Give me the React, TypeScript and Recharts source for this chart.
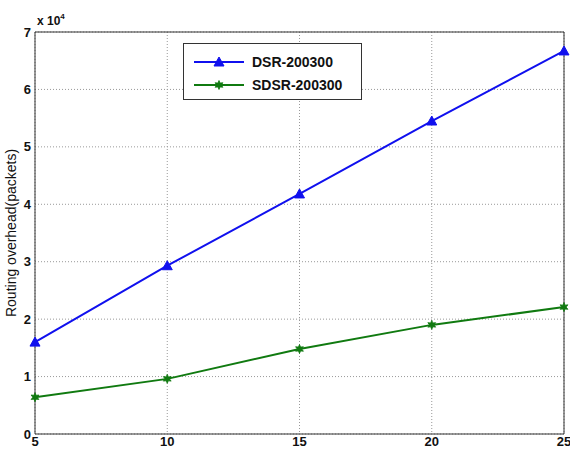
import React from 'react';
import { LineChart, Line, XAxis, YAxis, CartesianGrid, Customized, ReferenceLine } from 'recharts';

const nodes = [5, 10, 15, 20, 25];
const dsr = [16000, 29300, 41800, 54500, 66700];
const sdsr = [6400, 9600, 14800, 19000, 22100];
const yTicks = [0, 10000, 20000, 30000, 40000, 50000, 60000, 70000];

const data = nodes.map((n, i) => ({ n, dsr: dsr[i], sdsr: sdsr[i] }));

const BLUE = '#1010ee';
const GREEN = '#107a10';
const FONT = 'Liberation Sans, Arial, sans-serif';

const Tri = (props: any) => {
  const { cx, cy } = props;
  if (cx == null || cy == null) return null;
  const s = 5;
  return <polygon points={`${cx},${cy - s} ${cx - s},${cy + s * 0.8} ${cx + s},${cy + s * 0.8}`} fill={BLUE} stroke={BLUE} strokeWidth={1} />;
};

const Star = (props: any) => {
  const { cx, cy } = props;
  if (cx == null || cy == null) return null;
  const pts: string[] = [];
  for (let i = 0; i < 12; i++) {
    const r = i % 2 === 0 ? 4.5 : 2.2;
    const a = (Math.PI / 6) * i - Math.PI / 2;
    pts.push(`${cx + r * Math.cos(a)},${cy + r * Math.sin(a)}`);
  }
  return <polygon points={pts.join(' ')} fill={GREEN} stroke={GREEN} strokeWidth={0.8} />;
};

const LegendBox = () => (
  <div style={{ position: 'absolute', left: 183, top: 43, width: 179, height: 57, border: '1px solid #333', background: '#fff', boxSizing: 'border-box', fontFamily: FONT, fontWeight: 'bold', fontSize: 14, color: '#111' }}>
    {[{ c: BLUE, t: 'DSR-200300', S: Tri }, { c: GREEN, t: 'SDSR-200300', S: Star }].map((e, i) => (
      <div key={i} style={{ display: 'flex', alignItems: 'center', height: 23, marginTop: i === 0 ? 6 : 0 }}>
        <svg width={58} height={14} style={{ marginLeft: 8 }}>
          <line x1={2} y1={7} x2={52} y2={7} stroke={e.c} strokeWidth={2} />
          <e.S cx={27} cy={7} />
        </svg>
        <span style={{ marginLeft: 2 }}>{e.t}</span>
      </div>
    ))}
  </div>
);

const Exponent = () => (
  <text x={37} y={25} fontFamily={FONT} fontSize={12} fontWeight="bold" fill="#111">
    x 10<tspan dy={-6} fontSize={8}>4</tspan>
  </text>
);

const YTitle = () => (
  <text x={16} y={233} transform="rotate(-90 16 233)" textAnchor="middle" fontFamily={FONT} fontSize={14} fill="#111">
    Routing overhead(packets)
  </text>
);

export default function App() {
  const tickStyle = { fontFamily: FONT, fontSize: 13, fontWeight: 'bold', fill: '#111' } as any;
  return (
    <div style={{ position: 'absolute', left: 0, top: 0, width: 570, height: 450, background: '#fff' }}>
      <LineChart width={570} height={450} data={data} margin={{ top: 32, right: 6, bottom: 0, left: 0 }}>
        <CartesianGrid stroke="#999" strokeDasharray="1 2" />
        <XAxis dataKey="n" type="number" domain={[5, 25]} ticks={nodes} height={16} tick={tickStyle} tickLine={false} axisLine={{ stroke: '#333' }} tickSize={0} tickMargin={3} interval={0} />
        <YAxis type="number" domain={[0, 70000]} ticks={yTicks} width={35} tick={tickStyle} tickLine={false} axisLine={{ stroke: '#333' }} tickSize={0} tickMargin={4} tickFormatter={(v: number) => String(v / 10000)} interval={0} />
        <ReferenceLine y={70000} stroke="#333" strokeWidth={1} />
        <ReferenceLine x={25} stroke="#333" strokeWidth={1} />
        <Line type="linear" dataKey="dsr" stroke={BLUE} strokeWidth={2} dot={<Tri />} isAnimationActive={false} />
        <Line type="linear" dataKey="sdsr" stroke={GREEN} strokeWidth={2} dot={<Star />} isAnimationActive={false} />
        <Customized component={Exponent} />
        <Customized component={YTitle} />
      </LineChart>
      <LegendBox />
    </div>
  );
}
